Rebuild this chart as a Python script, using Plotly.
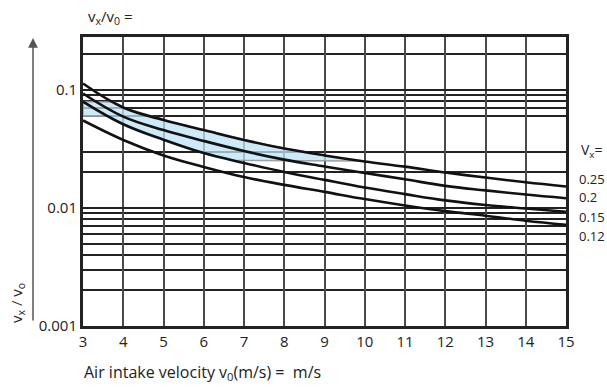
import numpy as np
import plotly.graph_objects as go

# ---------------- data ----------------
velocity = [3, 4, 5, 6, 7, 8, 9, 10, 11, 12, 13, 14, 15]
vx_labels = ["0.25", "0.2", "0.15", "0.12"]
ratio_025 = [0.1135, 0.0710, 0.0557, 0.0458, 0.0377, 0.0319, 0.0279, 0.0248, 0.0224, 0.0200, 0.0181, 0.0165, 0.0152]
ratio_020 = [0.0934, 0.0595, 0.0458, 0.0370, 0.0304, 0.0257, 0.0225, 0.0198, 0.0175, 0.0154, 0.0141, 0.0130, 0.0121]
ratio_015 = [0.0796, 0.0512, 0.0379, 0.0292, 0.0241, 0.0202, 0.0173, 0.0149, 0.0131, 0.0116, 0.0106, 0.0099, 0.0093]
ratio_012 = [0.0551, 0.0377, 0.0279, 0.0223, 0.0183, 0.0157, 0.0137, 0.0119, 0.0105, 0.0094, 0.0086, 0.0078, 0.0072]
band_upper = 0.08
band_lower = 0.025
band_lower_cap = 0.06
y_major = [0.1, 0.01, 0.001]
y_major_labels = ["0.1", "0.01", "0.001"]
y_minor = [0.2, 0.09, 0.08, 0.07, 0.06, 0.03, 0.02, 0.009, 0.008, 0.007,
           0.006, 0.005, 0.004, 0.003, 0.002]
x_ticks = list(range(3, 16))

FONT = "Open Sans, Noto Sans, sans-serif"

fig = go.Figure()

# ---- shaded band between the 0.25 and 0.15 curves, clipped
xd = np.linspace(velocity[0], velocity[-1], 800)
top = 10 ** np.interp(xd, velocity, np.log10(ratio_025))
bot = 10 ** np.interp(xd, velocity, np.log10(ratio_015))
top_c = np.minimum(top, band_upper)
bot_c = np.minimum(np.maximum(bot, band_lower), band_lower_cap)
mask = top_c > bot_c
xs = xd[mask]
poly_x = list(xs) + list(xs[::-1]) + [xs[0]]
poly_y = list(top_c[mask]) + list(bot_c[mask][::-1]) + [top_c[mask][0]]
fig.add_trace(go.Scatter(x=poly_x, y=poly_y, mode="lines", fill="toself",
                         fillcolor="rgba(190,226,245,0.75)",
                         line=dict(color="rgba(150,150,150,0.9)", width=1.5),
                         hoverinfo="skip", showlegend=False))

for series in [ratio_025, ratio_020, ratio_015, ratio_012]:
    fig.add_trace(go.Scatter(x=velocity, y=series, mode="lines",
                             line=dict(color="#111", width=2.6, shape="spline", smoothing=1.1),
                             hoverinfo="skip", showlegend=False))

fig.update_layout(
    width=607, height=387,
    margin=dict(l=83, r=41, t=37, b=61),
    paper_bgcolor="white", plot_bgcolor="white",
    font=dict(family=FONT, size=16, color="#222"),
)
fig.update_xaxes(range=[3, 15], tickvals=x_ticks, ticktext=[str(v) for v in x_ticks],
                 showgrid=True, gridcolor="#4a4a4a", gridwidth=2,
                 showline=True, linecolor="#222", linewidth=3, mirror=True,
                 ticks="", zeroline=False, tickfont=dict(size=15))
fig.update_yaxes(type="log", range=[-3, -0.551], tickvals=y_major, ticktext=y_major_labels,
                 showgrid=True, gridcolor="#222", gridwidth=1.6,
                 minor=dict(tickvals=y_minor, showgrid=True, gridcolor="#222", gridwidth=1.6, ticks=""),
                 showline=True, linecolor="#222", linewidth=3, mirror=True,
                 ticks="", zeroline=False, tickfont=dict(size=15))

W = 483.0
H = 289.0
def px(x):
    return (x - 83) / W
def py(y):
    return (326 - y) / H

ann = []
ann.append(dict(x=px(86), y=py(17), xref="paper", yref="paper", xanchor="left", yanchor="middle",
                text="v<sub>x</sub>/v<sub>0</sub> =", showarrow=False, font=dict(size=15)))
ann.append(dict(x=px(82), y=py(372), xref="paper", yref="paper", xanchor="left", yanchor="middle",
                text="Air intake velocity v<sub>0</sub>(m/s) =  m/s", showarrow=False, font=dict(size=16)))
ann.append(dict(x=px(17), y=py(303), xref="paper", yref="paper", xanchor="center", yanchor="middle",
                text="v<sub>x</sub> / v<sub>o</sub>", textangle=-90, showarrow=False, font=dict(size=15)))
ann.append(dict(x=px(33), y=py(38), xref="paper", yref="paper", ax=0, ay=284, axref="pixel", ayref="pixel",
                text="", showarrow=True, arrowhead=2, arrowsize=1.3, arrowwidth=1.5, arrowcolor="#555"))
ann.append(dict(x=px(579), y=py(150), xref="paper", yref="paper", xanchor="left", yanchor="middle",
                text="V<sub>x</sub>=", showarrow=False, font=dict(size=14)))
label_y = [179, 197, 217, 236]
for lab, yy in zip(vx_labels, label_y):
    ann.append(dict(x=px(578), y=py(yy), xref="paper", yref="paper", xanchor="left", yanchor="middle",
                    text=lab, showarrow=False, font=dict(size=13), borderpad=0))
fig.update_layout(annotations=ann)

fig.write_html("out.html")
